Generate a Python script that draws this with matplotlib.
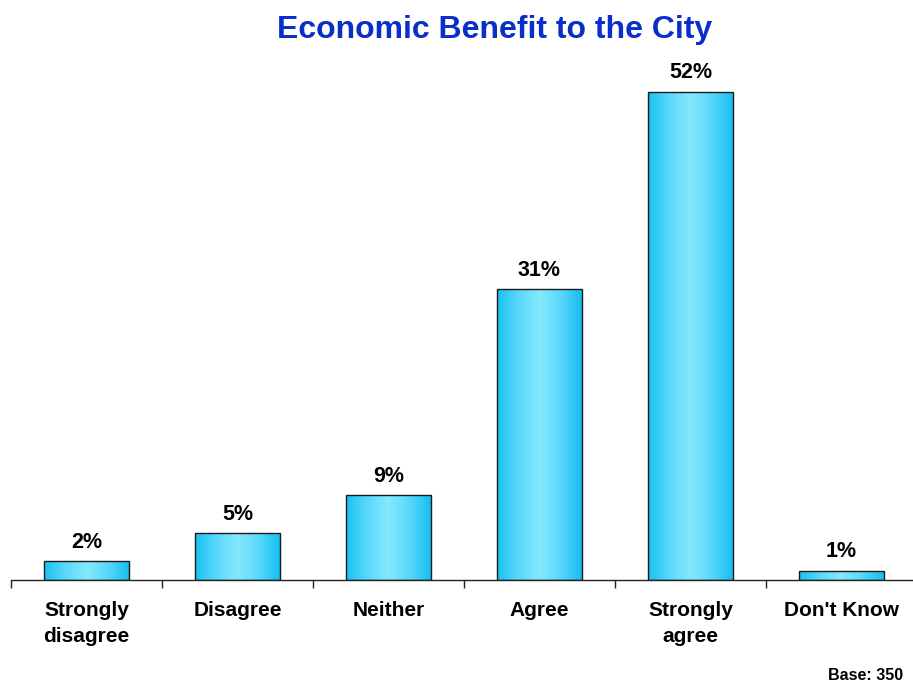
import numpy as np
import matplotlib
matplotlib.use("Agg")
import matplotlib.pyplot as plt
from matplotlib.colors import LinearSegmentedColormap

categories = ["Strongly\ndisagree", "Disagree", "Neither", "Agree", "Strongly\nagree", "Don't Know"]
values = [2, 5, 9, 31, 52, 1]
value_labels = ["2%", "5%", "9%", "31%", "52%", "1%"]
title = "Economic Benefit to the City"
base_note = "Base: 350"

plt.rcParams["font.family"] = ["Liberation Sans", "DejaVu Sans"]

fig = plt.figure(figsize=(9.13, 6.84), dpi=100)
ax = fig.add_axes([11 / 913, 104 / 684, 906 / 913, 540 / 684])

x = np.arange(len(values))
bar_w = 0.56
bars = ax.bar(x, values, width=bar_w, color="none", edgecolor="#1a1a1a",
              linewidth=1.0, zorder=3)

# horizontal cyan gradient: saturated at the edges, pale in the middle
grad_cmap = LinearSegmentedColormap.from_list(
    "cyan_bar", ["#18C2F2", "#5AD8FB", "#86E8FF", "#5AD8FB", "#14BEF0"])
grad = np.linspace(0, 1, 256).reshape(1, -1)
for rect in bars:
    x0, y0 = rect.get_x(), rect.get_y()
    w, h = rect.get_width(), rect.get_height()
    im = ax.imshow(grad, cmap=grad_cmap, aspect="auto",
                   extent=[x0, x0 + w, y0, y0 + h], zorder=2,
                   interpolation="bilinear")
    im.set_clip_path(rect)

for xi, v, lab in zip(x, values, value_labels):
    ax.annotate(lab, (xi, v), xytext=(0, 6), textcoords="offset points",
                ha="center", va="bottom", fontsize=15.5, fontweight="bold",
                color="black")

ax.set_xlim(-0.5, len(values) - 0.5)
ax.set_ylim(0, 57.5)

for s in ["top", "right", "left"]:
    ax.spines[s].set_visible(False)
ax.spines["bottom"].set_color("#222222")
ax.spines["bottom"].set_linewidth(1.0)
ax.set_yticks([])

# tick marks at category boundaries, labels centred on the bars
ax.set_xticks(np.arange(len(values) + 1) - 0.5)
ax.set_xticklabels([])
ax.tick_params(axis="x", which="major", length=6, width=1.0, color="#222222",
               direction="out")
ax.set_xticks(x, minor=True)
ax.set_xticklabels(categories, minor=True, fontsize=15, fontweight="bold",
                   linespacing=1.45)
ax.tick_params(axis="x", which="minor", length=0, pad=15)
for t in ax.get_xticklabels(minor=True):
    t.set_verticalalignment("top")

fig.text(495 / 913, 1 - 30 / 684, title, ha="center", va="center",
         fontsize=23, fontweight="bold", color="#0A2EC8")
fig.text(903 / 913, 1 - 675 / 684, base_note, ha="right", va="center",
         fontsize=11.6, fontweight="bold", color="black")

fig.savefig("out.png", dpi=100)
